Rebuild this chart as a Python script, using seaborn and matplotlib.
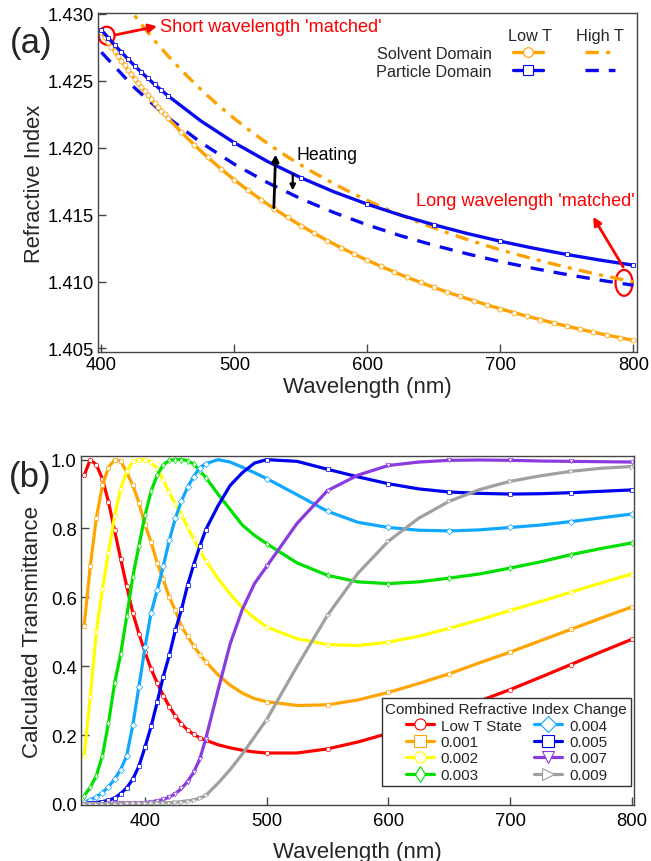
import matplotlib
matplotlib.use("Agg")
import matplotlib.pyplot as plt
import seaborn as sns
from matplotlib.patches import Ellipse
from matplotlib.ticker import FormatStrFormatter, MultipleLocator

# ---------------- Panel (a) data ----------------
wl_solvent_low = [400, 402.5, 405, 407.5, 410, 412.5, 415, 417.5, 420, 422.5, 425,
                  427.5, 430, 432.5, 435, 437.5, 440, 442.5, 445, 447.5, 450,
                  460, 470, 480, 490, 500, 510, 520, 530, 540, 550, 560, 570, 580, 590,
                  600, 610, 620, 630, 640, 650, 660, 670, 680, 690, 700, 710, 720, 730,
                  740, 750, 760, 770, 780, 790, 800]
n_solvent_low = [1.42868, 1.42830, 1.42792, 1.42756, 1.42720, 1.42684, 1.42650, 1.42615,
                 1.42582, 1.42549, 1.42517, 1.42485, 1.42454, 1.42423, 1.42393, 1.42363,
                 1.42334, 1.42305, 1.42277, 1.42249, 1.42222,
                 1.42118, 1.42020, 1.41928, 1.41841, 1.41760, 1.41684, 1.41612, 1.41544,
                 1.41479, 1.41418, 1.41361, 1.41306, 1.41254, 1.41205, 1.41159, 1.41114,
                 1.41072, 1.41031, 1.40993, 1.40956, 1.40921, 1.40888, 1.40856, 1.40825,
                 1.40796, 1.40768, 1.40741, 1.40715, 1.40690, 1.40666, 1.40643, 1.40621,
                 1.40600, 1.40580, 1.40560]

wl_particle_low = [400, 405, 410, 415, 420, 425, 430, 435, 440, 445, 450,
                   475, 500, 525, 550, 575, 600, 625, 650, 675, 700, 725, 750, 775, 800]
n_particle_low = [1.42881, 1.42824, 1.42768, 1.42715, 1.42663, 1.42613, 1.42565, 1.42519,
                  1.42474, 1.42431, 1.42389, 1.42199, 1.42037, 1.41897, 1.41776, 1.41670,
                  1.41578, 1.41496, 1.41424, 1.41359, 1.41301, 1.41249, 1.41202, 1.41160,
                  1.41122]
particle_low_marks = [0, 1, 2, 3, 4, 5, 6, 7, 8, 9, 10, 12, 14, 16, 18, 20, 22, 24]

wl_solvent_high = [400, 410, 420, 430, 440, 450, 460, 470, 480, 490, 500, 510, 520, 530,
                   540, 550, 560, 570, 580, 590, 600, 610, 620, 630, 640, 650, 660, 670,
                   680, 690, 700, 710, 720, 730, 740, 750, 760, 770, 780, 790, 800]
n_solvent_high = [1.43344, 1.43193, 1.43053, 1.42923, 1.42801, 1.42688, 1.42581, 1.42482,
                  1.42388, 1.42301, 1.42218, 1.42140, 1.42067, 1.41998, 1.41932, 1.41871,
                  1.41812, 1.41757, 1.41704, 1.41654, 1.41606, 1.41561, 1.41518, 1.41477,
                  1.41438, 1.41401, 1.41365, 1.41331, 1.41298, 1.41267, 1.41237, 1.41209,
                  1.41182, 1.41155, 1.41130, 1.41106, 1.41083, 1.41060, 1.41039, 1.41018,
                  1.40998]

wl_particle_high = [400, 425, 450, 475, 500, 525, 550, 575, 600, 625, 650, 675, 700,
                    725, 750, 775, 800]
n_particle_high = [1.42714, 1.42448, 1.42226, 1.42038, 1.41877, 1.41739, 1.41619, 1.41515,
                   1.41423, 1.41342, 1.41271, 1.41207, 1.41149, 1.41098, 1.41052, 1.41010,
                   1.40972]

# ---------------- Panel (b) data ----------------
wl_b = [350, 355, 360, 365, 370, 375, 380, 385, 390, 395, 400, 405, 410, 415, 420, 425,
        430, 435, 440, 445, 450, 460, 470, 480, 490, 500, 525, 550, 575, 600, 625, 650,
        675, 700, 725, 750, 775, 800]
b_marks = list(range(21)) + [25, 27, 29, 31, 33, 35, 37]

series_labels = ["Low T State", "0.001", "0.002", "0.003", "0.004", "0.005", "0.007", "0.009"]
t_low = [0.954, 1.0, 0.985, 0.945, 0.877, 0.795, 0.712, 0.632, 0.555, 0.495, 0.441, 0.392,
         0.352, 0.315, 0.283, 0.255, 0.232, 0.215, 0.202, 0.192, 0.185, 0.172, 0.163, 0.156,
         0.151, 0.148, 0.148, 0.160, 0.180, 0.205, 0.235, 0.267, 0.299, 0.332, 0.368, 0.405,
         0.442, 0.478]
t_001 = [0.518, 0.69, 0.83, 0.925, 0.977, 1.0, 0.996, 0.963, 0.925, 0.875, 0.81, 0.761,
         0.70, 0.652, 0.60, 0.562, 0.515, 0.487, 0.459, 0.434, 0.413, 0.375, 0.345, 0.322,
         0.306, 0.297, 0.286, 0.288, 0.302, 0.324, 0.350, 0.378, 0.410, 0.441, 0.474, 0.507,
         0.540, 0.572]
t_002 = [0.14, 0.31, 0.50, 0.625, 0.73, 0.835, 0.915, 0.966, 0.995, 1.0, 1.0, 0.993, 0.974,
         0.94, 0.905, 0.87, 0.84, 0.803, 0.77, 0.736, 0.706, 0.655, 0.61, 0.57, 0.54, 0.514,
         0.48, 0.463, 0.46, 0.47, 0.487, 0.51, 0.535, 0.562, 0.588, 0.615, 0.642, 0.668]
t_003 = [0.024, 0.048, 0.082, 0.14, 0.235, 0.35, 0.435, 0.545, 0.66, 0.75, 0.838, 0.908,
         0.955, 0.985, 0.998, 1.0, 1.0, 0.997, 0.987, 0.968, 0.948, 0.90, 0.855, 0.81, 0.78,
         0.756, 0.70, 0.664, 0.645, 0.64, 0.645, 0.656, 0.668, 0.685, 0.703, 0.724, 0.742,
         0.758]
t_004 = [0.005, 0.012, 0.021, 0.033, 0.05, 0.072, 0.10, 0.14, 0.23, 0.34, 0.455, 0.555,
         0.62, 0.69, 0.766, 0.83, 0.88, 0.92, 0.951, 0.976, 0.988, 1.0, 0.993, 0.978, 0.962,
         0.945, 0.898, 0.85, 0.818, 0.803, 0.795, 0.793, 0.796, 0.803, 0.81, 0.82, 0.831,
         0.842]
t_005 = [0.001, 0.002, 0.004, 0.007, 0.011, 0.017, 0.03, 0.047, 0.072, 0.11, 0.165, 0.225,
         0.295, 0.37, 0.432, 0.505, 0.565, 0.635, 0.695, 0.748, 0.797, 0.866, 0.925, 0.962,
         0.99, 1.0, 0.995, 0.972, 0.95, 0.93, 0.915, 0.906, 0.902, 0.90, 0.901, 0.904, 0.908,
         0.912]
t_007 = [0.001, 0.001, 0.001, 0.001, 0.002, 0.002, 0.002, 0.003, 0.003, 0.003, 0.004, 0.006,
         0.009, 0.013, 0.02, 0.03, 0.045, 0.065, 0.092, 0.13, 0.19, 0.33, 0.465, 0.565, 0.64,
         0.69, 0.815, 0.91, 0.955, 0.983, 0.993, 0.998, 0.999, 0.998, 0.996, 0.995, 0.994,
         0.993]
t_009 = [0.001, 0.001, 0.001, 0.001, 0.001, 0.001, 0.001, 0.002, 0.002, 0.002, 0.002, 0.003,
         0.003, 0.004, 0.004, 0.005, 0.007, 0.009, 0.012, 0.017, 0.025, 0.06, 0.10, 0.145,
         0.195, 0.245, 0.40, 0.548, 0.67, 0.763, 0.83, 0.879, 0.913, 0.937, 0.953, 0.966,
         0.975, 0.98]
series_values = [t_low, t_001, t_002, t_003, t_004, t_005, t_007, t_009]
series_colors = ["#FF0000", "#FFA500", "#FFFF00", "#00E000", "#10A8FF", "#0000F0",
                 "#8A3BE0", "#A0A0A0"]
series_markers = ["o", "s", "o", "d", "D", "s", "v", ">"]

ORANGE = "#FFA200"
BLUE = "#0A0AF0"
SPINE = "#444444"

sns.set_theme(style="ticks")
plt.rcParams["font.family"] = ["Liberation Sans", "DejaVu Sans"]

fig = plt.figure(figsize=(6.51, 8.62), dpi=100)
ax1 = fig.add_axes([0.1510, 0.5908, 0.8270, 0.3926])
ax2 = fig.add_axes([0.1244, 0.0644, 0.8495, 0.4055])

# ---------------- Panel (a) ----------------
sns.lineplot(x=wl_solvent_high, y=n_solvent_high, ax=ax1, color=ORANGE, linewidth=2.4,
             linestyle=(0, (4, 2.2, 1.2, 2.2)), errorbar=None)
l_sh = ax1.lines[-1]
sns.lineplot(x=wl_particle_high, y=n_particle_high, ax=ax1, color=BLUE, linewidth=2.4,
             linestyle=(0, (4, 3)), errorbar=None)
l_ph = ax1.lines[-1]
sns.lineplot(x=wl_solvent_low, y=n_solvent_low, ax=ax1, color=ORANGE, linewidth=2.4,
             marker="o", markersize=3.6, markerfacecolor="white", markeredgecolor=ORANGE,
             markeredgewidth=0.6, errorbar=None)
l_sl = ax1.lines[-1]
sns.lineplot(x=wl_particle_low, y=n_particle_low, ax=ax1, color=BLUE, linewidth=2.4,
             marker="s", markersize=3.4, markerfacecolor="white", markeredgecolor=BLUE,
             markeredgewidth=0.6, markevery=particle_low_marks, errorbar=None)
l_pl = ax1.lines[-1]

ax1.set_xlim(397.7, 802.5)
ax1.set_ylim(1.40475, 1.43005)
ax1.xaxis.set_major_locator(MultipleLocator(100))
ax1.yaxis.set_major_locator(MultipleLocator(0.005))
ax1.yaxis.set_major_formatter(FormatStrFormatter("%.3f"))
ax1.set_xlabel("Wavelength (nm)", fontsize=16, labelpad=2)
ax1.set_ylabel("Refractive Index", fontsize=15.8, labelpad=2)

leg1 = ax1.legend([l_sl, l_pl, l_sh, l_ph], ["Solvent Domain", "Particle Domain", "", ""],
                  ncol=2, markerfirst=False, frameon=False, loc="upper right",
                  bbox_to_anchor=(0.96, 0.903), fontsize=11.7, handlelength=1.85,
                  handletextpad=1.3, columnspacing=1.3, labelspacing=0.18, borderpad=0,
                  borderaxespad=0)
for lh in leg1.legend_handles[:2]:
    lh.set_markersize(7)
    lh.set_markeredgewidth(0.8)
ax1.text(0.801, 0.933, "Low T", transform=ax1.transAxes, ha="center", va="center",
         fontsize=11.7)
ax1.text(0.932, 0.933, "High T", transform=ax1.transAxes, ha="center", va="center",
         fontsize=11.7)

# annotations
ax1.add_patch(Ellipse((404, 1.42838), 11.8, 0.00134, fill=False, edgecolor="red", lw=1.6))
ax1.add_patch(Ellipse((793, 1.4099), 12.8, 0.00194, fill=False, edgecolor="red", lw=1.6))
ax1.annotate("", xy=(441.9, 1.42908), xytext=(410.3, 1.42843),
             arrowprops=dict(arrowstyle="-|>", color="red", lw=2, mutation_scale=12,
                             shrinkA=0, shrinkB=0))
ax1.annotate("", xy=(769.7, 1.41483), xytext=(792.3, 1.4111),
             arrowprops=dict(arrowstyle="-|>", color="red", lw=2, mutation_scale=12,
                             shrinkA=0, shrinkB=0))
ax1.text(444.1, 1.42908, "Short wavelength 'matched'", color="red", fontsize=13.1,
         ha="left", va="center")
ax1.text(636.6, 1.41607, "Long wavelength 'matched'", color="red", fontsize=13.1,
         ha="left", va="center")
ax1.annotate("", xy=(531.0, 1.4195), xytext=(529.7, 1.41552),
             arrowprops=dict(arrowstyle="-|>", color="black", lw=2, mutation_scale=10,
                             shrinkA=0, shrinkB=0))
ax1.annotate("", xy=(543.9, 1.41681), xytext=(543.9, 1.41801),
             arrowprops=dict(arrowstyle="-|>", color="black", lw=1.6, mutation_scale=8,
                             shrinkA=0, shrinkB=0))
ax1.text(546.4, 1.41948, "Heating", color="black", fontsize=12.7, ha="left", va="center")

# ---------------- Panel (b) ----------------
handles_b = []
for lab, vals, col, mk in zip(series_labels, series_values, series_colors, series_markers):
    sns.lineplot(x=wl_b, y=vals, ax=ax2, color=col, linewidth=2.3, marker=mk,
                 markersize=3.2, markerfacecolor="white", markeredgecolor=col,
                 markeredgewidth=0.5, markevery=b_marks, errorbar=None, label=lab)
    handles_b.append(ax2.lines[-1])

ax2.set_xlim(347.4, 801.9)
ax2.set_ylim(-0.0044, 1.0107)
ax2.xaxis.set_major_locator(MultipleLocator(100))
ax2.yaxis.set_major_locator(MultipleLocator(0.2))
ax2.yaxis.set_major_formatter(FormatStrFormatter("%.1f"))
ax2.set_xlabel("Wavelength (nm)", fontsize=16, labelpad=8)
ax2.set_ylabel("Calculated Transmittance", fontsize=16, labelpad=6)

leg2 = ax2.legend(handles_b, series_labels, ncol=2, loc="lower right",
                  bbox_to_anchor=(0.9946, 0.0567), borderaxespad=0, fontsize=11,
                  title="Combined Refractive Index Change", title_fontsize=11,
                  handlelength=1.85, handletextpad=0.45, columnspacing=0.8,
                  labelspacing=0.16, borderpad=0.25, fancybox=False, framealpha=1,
                  edgecolor="#333333")
leg2.get_frame().set_linewidth(1.0)
for lh in leg2.legend_handles:
    lh.set_markersize(8)
    lh.set_markeredgewidth(0.8)

for ax in (ax1, ax2):
    for sp in ax.spines.values():
        sp.set_visible(True)
        sp.set_color(SPINE)
        sp.set_linewidth(1.0)
    ax.tick_params(axis="both", which="major", direction="in", length=5.5, width=1,
                   color=SPINE, labelsize=13.3, pad=3, labelcolor="black")
    ax.tick_params(top=False, right=False)
ax2.tick_params(axis="x", pad=5)

fig.text(31 / 651, 1 - 44 / 862, "(a)", fontsize=25, ha="center", va="center")
fig.text(30 / 651, 1 - 478 / 862, "(b)", fontsize=25, ha="center", va="center")

fig.savefig("out.png", dpi=100)
